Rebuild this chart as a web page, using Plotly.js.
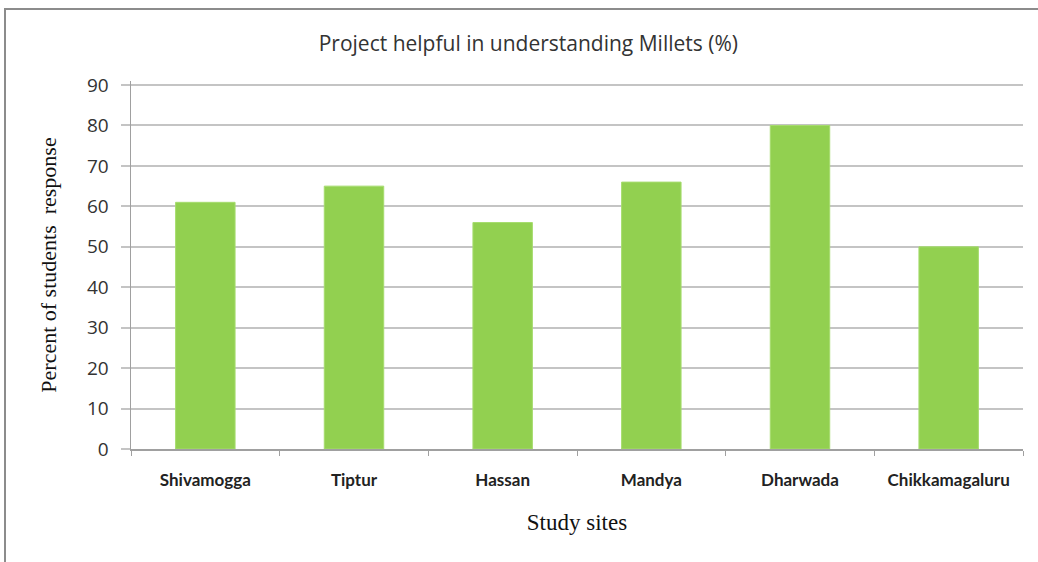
<!DOCTYPE html>
<html>
<head>
<meta charset="utf-8">
<script src="https://cdn.plot.ly/plotly-3.0.1.min.js"></script>
<style>
  html, body { margin: 0; padding: 0; background: #fff; }
  #chart { position: absolute; left: 0; top: 0; width: 1038px; height: 562px; }
  #frame { position: absolute; left: 4px; top: 8px; width: 1100px; height: 700px;
           border-left: 2px solid #8c8c8c; border-top: 2px solid #8c8c8c; pointer-events: none; }
</style>
</head>
<body>
<div id="chart"></div>
<div id="frame"></div>
<script>
// Study sites and share of students who found the project helpful
const sites = ["Shivamogga", "Tiptur", "Hassan", "Mandya", "Dharwada", "Chikkamagaluru"];
const helpfulPct = [61, 65, 56, 66, 80, 50];
const yTicks = [0, 10, 20, 30, 40, 50, 60, 70, 80, 90];
const yMax = yTicks[yTicks.length - 1];

const trace = {
  type: "bar",
  x: sites,
  y: helpfulPct,
  marker: { color: "#92d050", line: { color: "#a6dc6e", width: 1 } },
  width: 0.4,
  hoverinfo: "x+y"
};

const layout = {
  width: 1038,
  height: 562,
  paper_bgcolor: "#ffffff",
  plot_bgcolor: "#ffffff",
  margin: { l: 131, r: 15, t: 81, b: 113 },
  showlegend: false,
  title: {
    text: "Project helpful in understanding Millets (%)",
    font: { family: "Open Sans, sans-serif", size: 21, color: "#333" },
    x: 0.509, xanchor: "center", y: 0.922, yanchor: "middle"
  },
  // top gridline, drawn explicitly so it always shows at the axis maximum
  shapes: [{
    type: "line", xref: "paper", yref: "y",
    x0: 0, x1: 1, y0: yMax, y1: yMax,
    line: { color: "#c4c4c4", width: 2 }, layer: "below"
  }],
  xaxis: {
    type: "category",
    showgrid: false,
    showline: true,
    linecolor: "#a0a0a0",
    linewidth: 1.5,
    ticks: "outside",
    ticklen: 5,
    tickcolor: "#a0a0a0",
    tickson: "boundaries",
    ticklabelstandoff: 15,
    tickfont: { family: "Lato, sans-serif", size: 17, color: "#222", weight: "bold" },
    title: {
      text: "Study sites",
      font: { family: "Liberation Serif, serif", size: 23, color: "#111" },
      standoff: 25
    }
  },
  yaxis: {
    range: [0, 91],
    tickvals: yTicks,
    ticktext: yTicks.map(String),
    showgrid: true,
    gridcolor: "#c4c4c4",
    gridwidth: 2,
    zeroline: false,
    showline: true,
    linecolor: "#a0a0a0",
    linewidth: 1.5,
    ticks: "outside",
    ticklen: 9,
    tickcolor: "#c4c4c4",
    tickwidth: 2,
    ticklabelstandoff: 8,
    tickfont: { family: "Open Sans, sans-serif", size: 19, color: "#333" },
    title: {
      text: "Percent of students  response",
      font: { family: "Liberation Serif, serif", size: 22, color: "#111" },
      standoff: 24
    }
  }
};

Plotly.newPlot("chart", [trace], layout, { displayModeBar: false, staticPlot: true });
</script>
</body>
</html>
